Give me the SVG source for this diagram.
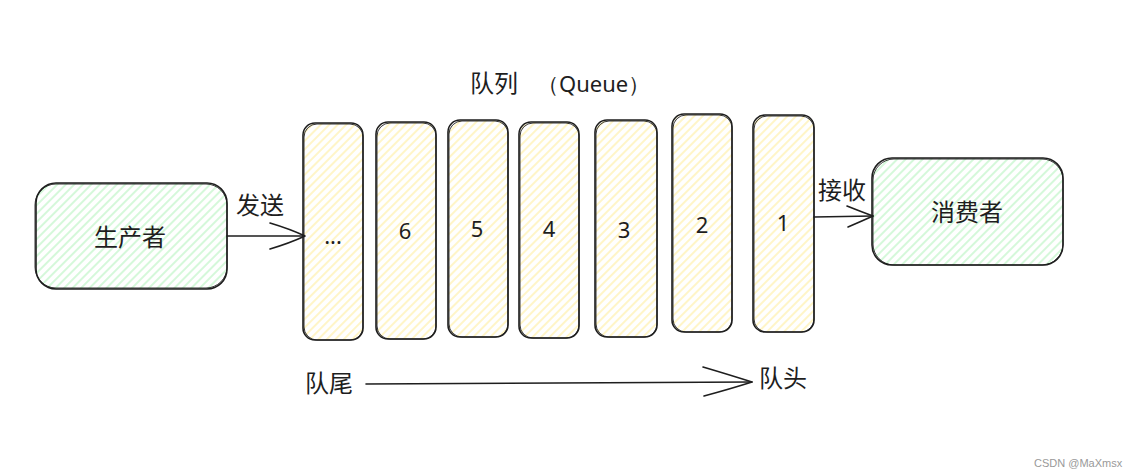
<svg xmlns="http://www.w3.org/2000/svg" width="1137" height="476" viewBox="0 0 1137 476">
<defs>
<pattern id="hg" width="6" height="6" patternUnits="userSpaceOnUse" patternTransform="rotate(45)">
<line x1="3" y1="0" x2="3" y2="6" stroke="#b2f2bb" stroke-width="1.1"/>
</pattern>
<pattern id="hy" width="6" height="6" patternUnits="userSpaceOnUse" patternTransform="rotate(45)">
<line x1="3" y1="0" x2="3" y2="6" stroke="#ffec99" stroke-width="1.1"/>
</pattern>
</defs>
<style>
.box{stroke:#1e1e1e;stroke-width:1.6;}
.box2{fill:none;stroke:#1e1e1e;stroke-width:0.9;}
.g{fill:url(#hg);}
.y{fill:url(#hy);}
.cn{font-family:"Noto Sans CJK SC","Noto Sans",sans-serif;font-size:24px;fill:#1e1e1e;}
.num{font-family:"Noto Sans","DejaVu Sans",sans-serif;font-size:22px;fill:#1e1e1e;text-anchor:middle;}
.line{fill:none;stroke:#1e1e1e;stroke-width:1.6;stroke-linecap:round;}
</style>
<rect width="1137" height="476" fill="#ffffff"/>

<g id="producer">
<rect class="box g" x="36" y="183" width="191" height="106" rx="20"/>
<rect class="box2" x="35" y="184" width="192" height="104" rx="21"/>
<text class="cn" x="130" y="246" text-anchor="middle">生产者</text>
</g>

<g id="q-dots">
<rect class="box y" x="303" y="123" width="60" height="217" rx="12"/>
<rect class="box2" x="304" y="124" width="59" height="216" rx="13"/>
<text class="num" x="333" y="244">...</text>
</g>
<g id="q-6">
<rect class="box y" x="376" y="122" width="60" height="217" rx="12"/>
<rect class="box2" x="377" y="123" width="59" height="216" rx="13"/>
<text class="num" x="405" y="239">6</text>
</g>
<g id="q-5">
<rect class="box y" x="448" y="120" width="60" height="217" rx="12"/>
<rect class="box2" x="449" y="121" width="59" height="216" rx="13"/>
<text class="num" x="477" y="237">5</text>
</g>
<g id="q-4">
<rect class="box y" x="519" y="122" width="60" height="216" rx="12"/>
<rect class="box2" x="520" y="123" width="59" height="215" rx="13"/>
<text class="num" x="549" y="237">4</text>
</g>
<g id="q-3">
<rect class="box y" x="595" y="120" width="62" height="217" rx="12"/>
<rect class="box2" x="596" y="121" width="61" height="216" rx="13"/>
<text class="num" x="624" y="238">3</text>
</g>
<g id="q-2">
<rect class="box y" x="672" y="114" width="60" height="218" rx="12"/>
<rect class="box2" x="673" y="115" width="59" height="217" rx="13"/>
<text class="num" x="702" y="233">2</text>
</g>
<g id="q-1">
<rect class="box y" x="753" y="115" width="61" height="217" rx="12"/>
<rect class="box2" x="754" y="116" width="60" height="216" rx="13"/>
<text class="num" x="783" y="231">1</text>
</g>

<g id="consumer">
<rect class="box g" x="872" y="158" width="191" height="107" rx="20"/>
<rect class="box2" x="873" y="159" width="190" height="106" rx="21"/>
<text class="cn" x="967" y="221" text-anchor="middle">消费者</text>
</g>

<g id="title">
<text class="cn" x="470" y="92">队列</text>
<text class="cn" x="537" y="92" style="font-family:'Noto Sans',sans-serif;font-size:22px">（Queue）</text>
</g>

<g id="connectors">
<path class="line" d="M227 236 L304 236"/>
<path class="line" d="M270 223 Q290 229 305 236 M270 249 Q290 243 305 236"/>
<path class="line" d="M814 217 L873 216"/>
<path class="line" d="M847 206 Q862 212 873 216 M848 227 Q862 221 873 216"/>
<path class="line" d="M366 384 L752 382"/>
<path class="line" d="M703 367 Q730 375 752 382 M704 396 Q730 389 752 382"/>
</g>

<g id="labels">
<text class="cn" x="236" y="214">发送</text>
<text class="cn" x="818" y="199">接收</text>
<text class="cn" x="305" y="392">队尾</text>
<text class="cn" x="759" y="387">队头</text>
</g>

<text x="1034" y="467" style="font-family:'Liberation Sans',sans-serif;font-size:11px;fill:#999999">CSDN @MaXmsx</text>
</svg>
